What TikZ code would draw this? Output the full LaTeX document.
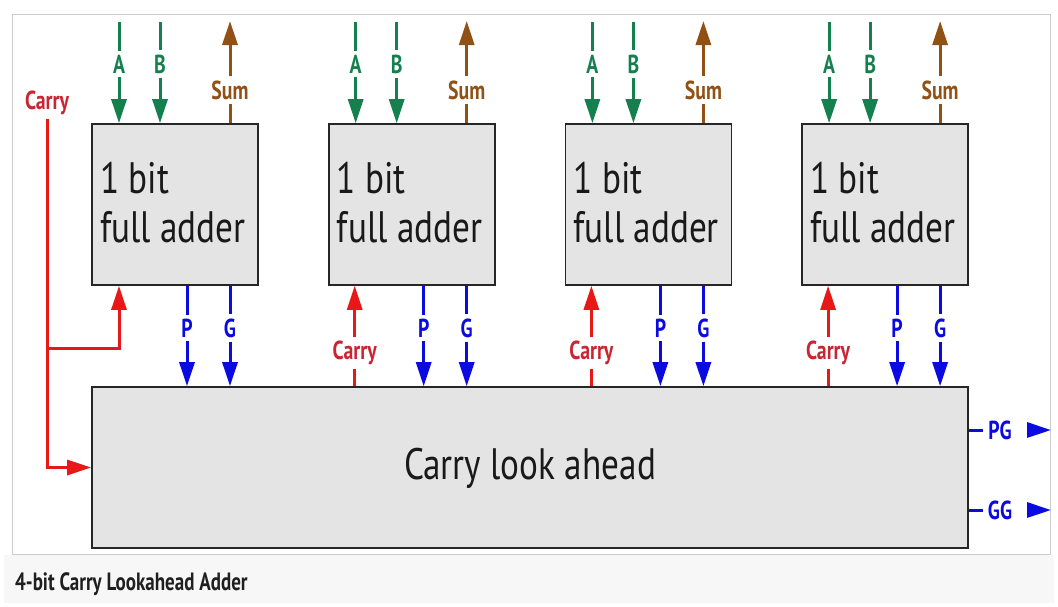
\documentclass[tikz,border=0pt]{standalone}
\usepackage{fontspec}
\setmainfont{PT Sans}
\newfontfamily\labfont[FakeStretch=0.76]{PT Sans}
\newfontfamily\boxfont[FakeStretch=0.8]{PT Sans}
\usetikzlibrary{arrows.meta}
\definecolor{cgreen}{RGB}{20,128,78}
\definecolor{cbrown}{RGB}{145,80,20}
\definecolor{cred}{RGB}{232,24,24}
\definecolor{credlab}{RGB}{200,38,50}
\definecolor{cblue}{RGB}{10,10,225}
\definecolor{cbox}{RGB}{228,228,228}
\begin{document}
\begin{tikzpicture}[x=1pt,y=-1pt,
  blockbox/.style={draw=black!85,line width=1.6pt,fill=cbox,inner sep=0pt},
  adderbox/.style={blockbox,minimum width=166pt,minimum height=161pt},
  boxtext/.style={font=\boxfont\fontsize{44}{50}\selectfont,inner sep=0pt,text=black!90},
  sig/.style={font=\labfont\bfseries\fontsize{26}{26}\selectfont,inner xsep=0pt,inner ysep=4pt},
  glab/.style={sig,text=cgreen},
  slab/.style={sig,text=cbrown},
  rlab/.style={sig,text=credlab},
  blab/.style={sig,text=cblue},
  wire/.style={line width=3pt},
  tip/.style={-{Triangle[length=24pt,width=15pt]}},
]
\useasboundingbox (0,0) rectangle (1058,606);
\fill[white] (0,0) rectangle (1058,606);
\fill[black!3] (4,555) rectangle (1054,603);
\draw[black!20,line width=1pt] (12,14) rectangle (1050,554);

% carry look ahead block
\node[blockbox,minimum width=876pt,minimum height=161pt] (cla) at (530,467.5) {};
\node[boxtext] (clatext) at (530,468) {Carry look ahead};

\foreach \i in {0,1,2,3}{
  \pgfmathsetmacro\xa{92+236.7*\i}
  \node[adderbox] (fa\i) at (\xa+83,204.5) {};
  \node[boxtext,anchor=base west] (la\i) at (\xa+8,193) {1 bit};
  \node[boxtext,anchor=base west] (lb\i) at (\xa+8,242) {full adder};
  % A input
  \coordinate (at\i) at (\xa+27,22);
  \node[glab] (A\i) at (\xa+27,64) {A};
  \draw[wire,cgreen] (at\i) -- (A\i.north);
  \draw[wire,cgreen,tip] (A\i.south) -- (fa\i.north -| A\i);
  % B input
  \coordinate (bt\i) at (\xa+68,22);
  \node[glab] (B\i) at (\xa+68,64) {B};
  \draw[wire,cgreen] (bt\i) -- (B\i.north);
  \draw[wire,cgreen,tip] (B\i.south) -- (fa\i.north -| B\i);
  % Sum output
  \coordinate (st\i) at (\xa+138,21);
  \node[slab] (S\i) at (\xa+138,90) {Sum};
  \draw[wire,cbrown] (fa\i.north -| S\i) -- (S\i.south);
  \draw[wire,cbrown,tip] (S\i.north) -- (st\i);
  % P output
  \node[blab] (P\i) at (\xa+95,328) {P};
  \draw[wire,cblue] (fa\i.south -| P\i) -- (P\i.north);
  \draw[wire,cblue,tip] (P\i.south) -- (cla.north -| P\i);
  % G output
  \node[blab] (G\i) at (\xa+138,328) {G};
  \draw[wire,cblue] (fa\i.south -| G\i) -- (G\i.north);
  \draw[wire,cblue,tip] (G\i.south) -- (cla.north -| G\i);
}
% carries from the look ahead block
\foreach \i in {1,2,3}{
  \pgfmathsetmacro\xc{92+236.7*\i+26}
  \node[rlab] (C\i) at (\xc,353) {Carry};
  \draw[wire,cred] (cla.north -| C\i) -- (C\i.south);
  \draw[wire,cred,tip] (C\i.north) -- (fa\i.south -| C\i);
}
% carry in
\node[rlab] (C0) at (47,103) {Carry};
\coordinate (br) at (47,348);
\draw[wire,cred,tip] (C0.south) |- (cla.west);
\draw[wire,cred,tip] (br) -| (fa0.south -| A0);

% PG and GG
\node[blab,inner xsep=5pt] (PG) at (1000,430) {PG};
\coordinate (pgs) at (1027,430);
\coordinate (pge) at (1051,430);
\draw[wire,cblue] (cla.east |- PG) -- (PG.west);
\draw[wire,cblue,tip] (pgs) -- (pge);
\node[blab,inner xsep=5pt] (GG) at (1000,510) {GG};
\coordinate (ggs) at (1027,510);
\coordinate (gge) at (1051,510);
\draw[wire,cblue] (cla.east |- GG) -- (GG.west);
\draw[wire,cblue,tip] (ggs) -- (gge);

% caption
\node[font=\labfont\bfseries\fontsize{25}{25}\selectfont,text=black!88,anchor=base west,inner sep=0pt] (cap) at (15,590) {4-bit Carry Lookahead Adder};
\end{tikzpicture}
\end{document}
